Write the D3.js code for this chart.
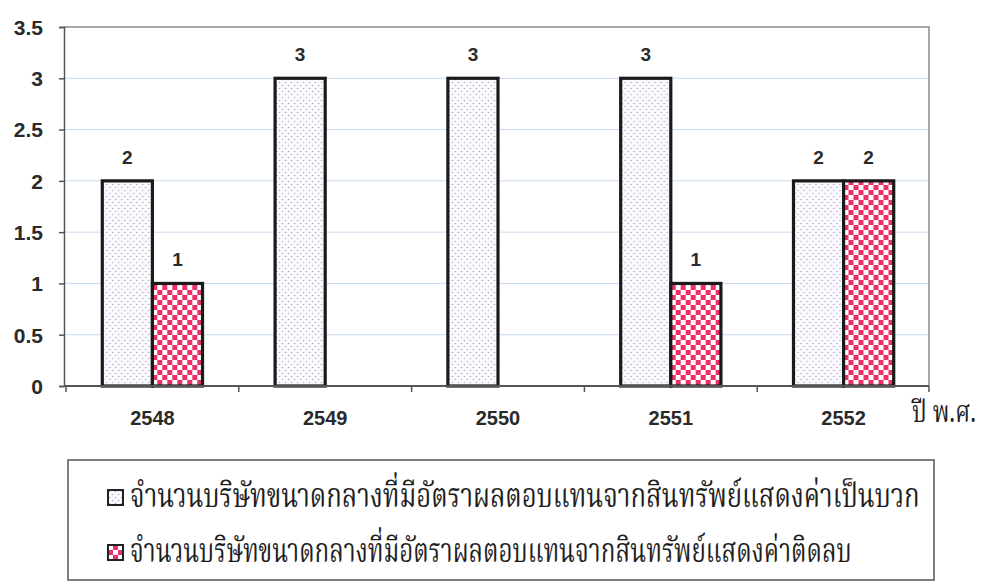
<!DOCTYPE html>
<html>
<head>
<meta charset="utf-8">
<script src="https://cdn.jsdelivr.net/npm/d3@7"></script>
<style>
  html, body { margin: 0; padding: 0; background: #fff; }
  svg { display: block; }
  .num { font-family: Arial, "Liberation Sans", sans-serif; font-weight: bold; fill: #2a2a2a; }
  .thai { font-family: "Norasi", "Noto Serif Thai", "Tlwg Typist", "Garuda", "Loma", "Noto Sans Thai", serif; fill: #1e1e1e; }
</style>
</head>
<body>
<svg id="chart" width="1002" height="585"></svg>
<script>
const years = ["2548", "2549", "2550", "2551", "2552"];
const positiveCount = [2, 3, 3, 3, 2];
const negativeCount = [1, 0, 0, 1, 2];
const yTicks = [0, 0.5, 1, 1.5, 2, 2.5, 3, 3.5];
const seriesNames = [
  "จำนวนบริษัทขนาดกลางที่มีอัตราผลตอบแทนจากสินทรัพย์แสดงค่าเป็นบวก",
  "จำนวนบริษัทขนาดกลางที่มีอัตราผลตอบแทนจากสินทรัพย์แสดงค่าติดลบ"
];
const xAxisTitle = "ปี พ.ศ.";

const svg = d3.select("#chart");
const defs = svg.append("defs");

// dotted pattern
const dots = defs.append("pattern").attr("id", "dots").attr("patternUnits", "userSpaceOnUse")
  .attr("width", 6).attr("height", 6);
dots.append("rect").attr("width", 6).attr("height", 6).attr("fill", "#fbfbfe");
dots.append("circle").attr("cx", 1.5).attr("cy", 1.5).attr("r", 0.8).attr("fill", "#a9abd0");
dots.append("circle").attr("cx", 4.5).attr("cy", 4.5).attr("r", 0.8).attr("fill", "#a9abd0");

// checker pattern
const chk = defs.append("pattern").attr("id", "checker").attr("patternUnits", "userSpaceOnUse")
  .attr("width", 10).attr("height", 10);
chk.append("rect").attr("width", 10).attr("height", 10).attr("fill", "#ee2f68");
chk.append("rect").attr("x", 0).attr("y", 0).attr("width", 5).attr("height", 5).attr("fill", "#ffffff");
chk.append("rect").attr("x", 5).attr("y", 5).attr("width", 5).attr("height", 5).attr("fill", "#ffffff");

const plot = { left: 64, right: 929, top: 27, bottom: 386 };

const x0 = d3.scaleBand().domain(years).range([plot.left + 2, plot.right + 1])
  .paddingInner(0.42).paddingOuter(0.21);
const x1 = d3.scaleBand().domain([0, 1]).range([0, x0.bandwidth()]);
const y = d3.scaleLinear().domain([0, 3.5]).range([plot.bottom, plot.top]);

// gridlines
svg.append("g").selectAll("line").data(yTicks.filter(d => d > 0 && d < 3.5)).join("line")
  .attr("x1", plot.left).attr("x2", plot.right)
  .attr("y1", d => y(d)).attr("y2", d => y(d))
  .attr("stroke", "#c9dcef").attr("stroke-width", 1);

// plot border (top & right)
svg.append("path")
  .attr("d", `M${plot.left},${plot.top}H${plot.right}V${plot.bottom}`)
  .attr("fill", "none").attr("stroke", "#8a8a8a").attr("stroke-width", 1.5);

// bars
const data = years.map((yr, i) => ({ yr, vals: [positiveCount[i], negativeCount[i]] }));
const fills = ["url(#dots)", "url(#checker)"];
const groups = svg.append("g").selectAll("g").data(data).join("g")
  .attr("transform", d => `translate(${x0(d.yr)},0)`);
groups.selectAll("rect").data(d => d.vals.map((v, k) => ({ v, k })).filter(e => e.v > 0)).join("rect")
  .attr("x", e => x1(e.k))
  .attr("y", e => y(e.v))
  .attr("width", x1.bandwidth())
  .attr("height", e => y(0) - y(e.v))
  .attr("fill", e => fills[e.k])
  .attr("stroke", "#1a1a1a").attr("stroke-width", 3.2);
groups.selectAll("text").data(d => d.vals.map((v, k) => ({ v, k })).filter(e => e.v > 0)).join("text")
  .attr("class", "num")
  .attr("x", e => x1(e.k) + x1.bandwidth() / 2)
  .attr("y", e => y(e.v) - 17)
  .attr("text-anchor", "middle").attr("font-size", 19)
  .text(e => d3.format("d")(e.v));

// y axis
const yAxis = svg.append("g").attr("transform", `translate(${plot.left},0)`)
  .call(d3.axisLeft(y).tickValues(yTicks).tickSize(5).tickFormat(d3.format("")));
yAxis.select(".domain").attr("stroke", "#555").attr("stroke-width", 1.5);
yAxis.selectAll(".tick line").attr("stroke", "#555").attr("stroke-width", 1.5);
yAxis.selectAll(".tick text").attr("class", "num").attr("font-size", 21).attr("x", -21).attr("dy", "0.35em");

// x axis
const xAxis = svg.append("g").attr("transform", `translate(0,${plot.bottom})`)
  .call(d3.axisBottom(x0).tickSize(0).tickPadding(25));
xAxis.select(".domain").attr("d", `M${plot.left},0H${plot.right}`).attr("stroke", "#555").attr("stroke-width", 2);
xAxis.selectAll(".tick text").attr("class", "num").attr("font-size", 20);
// boundary tick marks between categories
const bounds = years.map((yr, i) => x0(yr) - x0.step() * 0.21).concat([plot.right]);
xAxis.append("g").selectAll("line").data(bounds).join("line")
  .attr("x1", d => d).attr("x2", d => d).attr("y1", 0).attr("y2", 6)
  .attr("stroke", "#555").attr("stroke-width", 1.5);

// helper: horizontally squeeze a text to a target width (keeps true bbox)
function fitWidth(sel, x, yPos, target) {
  sel.each(function() {
    const w = this.getComputedTextLength();
    const sx = Math.min(1, target / w);
    d3.select(this).attr("x", 0).attr("y", 0)
      .attr("transform", `translate(${x},${yPos}) scale(${sx},1)`);
  });
}

const title = svg.append("text").attr("class", "thai").attr("font-size", 30).text(xAxisTitle);
fitWidth(title, 912, 422, 64);

// legend
const lg = svg.append("g");
lg.append("rect").attr("x", 68).attr("y", 460).attr("width", 866).attr("height", 120)
  .attr("fill", "#fff").attr("stroke", "#555").attr("stroke-width", 1.5);
const legendWidths = [790, 722];
const items = lg.selectAll("g").data(seriesNames).join("g")
  .attr("transform", (d, i) => `translate(108,${490 + i * 55})`);
items.append("rect").attr("width", 15).attr("height", 15)
  .attr("fill", (d, i) => fills[i]).attr("stroke", "#222").attr("stroke-width", 2);
items.append("text").attr("class", "thai").attr("font-size", 33).text(d => d)
  .each(function(d, i) { fitWidth(d3.select(this), 22, 17, legendWidths[i]); });
</script>
</body>
</html>
